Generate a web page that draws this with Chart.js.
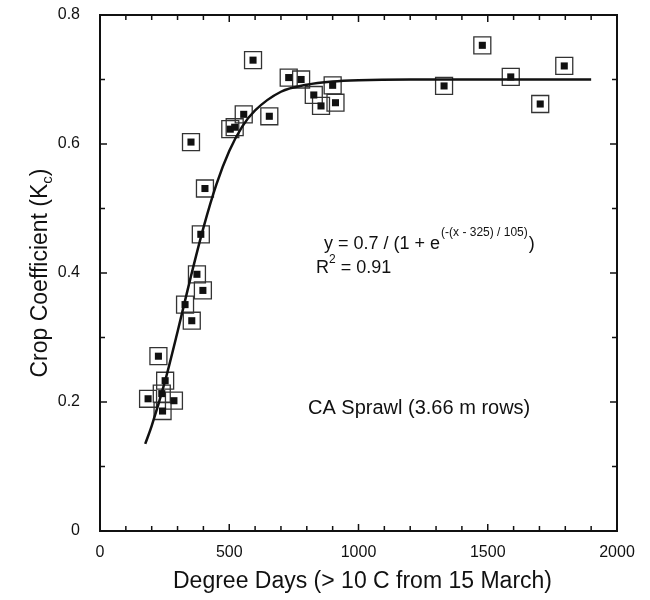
<!DOCTYPE html>
<html>
<head>
<meta charset="utf-8">
<script src="https://cdn.jsdelivr.net/npm/chart.js@4/dist/chart.umd.min.js"></script>
<style>
  body { margin: 0; background: #fff; }
</style>
</head>
<body>
<canvas id="chart" width="650" height="600"></canvas>
<script>
// measured points (degree days, Kc)
const degreeDays = [186, 226, 252, 239, 286, 242, 329, 355, 375, 398, 390, 406, 352, 504, 521,
                    556, 592, 655, 730, 778, 827, 855, 900, 911, 1331, 1479, 1589, 1703, 1796];
const kcValues  = [0.205, 0.271, 0.233, 0.213, 0.202, 0.186, 0.351, 0.326, 0.398, 0.373, 0.460, 0.531, 0.603, 0.623, 0.626,
                   0.646, 0.730, 0.643, 0.703, 0.700, 0.676, 0.659, 0.691, 0.664, 0.690, 0.753, 0.704, 0.662, 0.721];

// fitted curve
const curveX = [175, 200, 250, 300, 350, 400, 450, 500, 550, 600, 700, 800, 900, 1000, 1200, 1500, 1900];
const curveY = [0.135, 0.163, 0.230, 0.309, 0.392, 0.470, 0.537, 0.589, 0.627, 0.652, 0.681, 0.692, 0.697, 0.699, 0.700, 0.700, 0.700];

const xTicks = [0, 500, 1000, 1500, 2000];
const yTicks = [0, 0.2, 0.4, 0.6, 0.8];

const FONT = '"Liberation Sans", Arial, sans-serif';

const points = degreeDays.map((x, i) => ({ x: x, y: kcValues[i] }));
const curve = curveX.map((x, i) => ({ x: x, y: curveY[i] }));

const framePlugin = {
    id: 'frame',
    afterDraw(chart) {
        const ctx = chart.ctx;
        const a = chart.chartArea;
        const xs = chart.scales.x, ys = chart.scales.y;
        ctx.save();
        ctx.strokeStyle = '#111';
        ctx.lineWidth = 2;
        ctx.strokeRect(a.left, a.top, a.right - a.left, a.bottom - a.top);

        // inward ticks, major + minor, all four sides
        ctx.lineWidth = 1.5;
        ctx.beginPath();
        for (let v = 0; v <= 2000; v += 100) {
            const px = xs.getPixelForValue(v);
            const len = v % 500 === 0 ? 7 : 5;
            ctx.moveTo(px, a.bottom); ctx.lineTo(px, a.bottom - len);
            ctx.moveTo(px, a.top); ctx.lineTo(px, a.top + len);
        }
        for (let i = 0; i <= 8; i++) {
            const py = ys.getPixelForValue(i / 10);
            const len = i % 2 === 0 ? 7 : 5;
            ctx.moveTo(a.left, py); ctx.lineTo(a.left + len, py);
            ctx.moveTo(a.right, py); ctx.lineTo(a.right - len, py);
        }
        ctx.stroke();

        ctx.fillStyle = '#111';
        ctx.textBaseline = 'alphabetic';

        // x title
        ctx.font = '23px ' + FONT;
        ctx.textAlign = 'center';
        ctx.fillText('Degree Days (> 10 C from 15 March)', (a.left + a.right) / 2 + 4, 588);

        // y title with subscript
        ctx.save();
        ctx.translate(47, (a.top + a.bottom) / 2);
        ctx.rotate(-Math.PI / 2);
        const main = 'Crop Coefficient (K';
        ctx.font = '23px ' + FONT;
        const w1 = ctx.measureText(main).width;
        ctx.font = '15px ' + FONT;
        const w2 = ctx.measureText('c').width;
        ctx.font = '23px ' + FONT;
        const w3 = ctx.measureText(')').width;
        let sx = -(w1 + w2 + w3) / 2;
        ctx.textAlign = 'left';
        ctx.fillText(main, sx, 0);
        ctx.font = '15px ' + FONT;
        ctx.fillText('c', sx + w1, 5);
        ctx.font = '23px ' + FONT;
        ctx.fillText(')', sx + w1 + w2, 0);
        ctx.restore();

        // equation
        ctx.textAlign = 'left';
        let tx = 324;
        ctx.font = '18px ' + FONT;
        const eq1 = 'y = 0.7 / (1 + e';
        ctx.fillText(eq1, tx, 249);
        tx += ctx.measureText(eq1).width;
        ctx.font = '12px ' + FONT;
        const sup = '(-(x - 325) / 105)';
        ctx.fillText(sup, tx + 1, 236);
        tx += ctx.measureText(sup).width + 2;
        ctx.font = '18px ' + FONT;
        ctx.fillText(')', tx, 249);

        tx = 316;
        ctx.fillText('R', tx, 273);
        tx += ctx.measureText('R').width;
        ctx.font = '12px ' + FONT;
        ctx.fillText('2', tx, 263);
        tx += ctx.measureText('2').width;
        ctx.font = '18px ' + FONT;
        ctx.fillText(' = 0.91', tx, 273);

        ctx.font = '20px ' + FONT;
        ctx.fillText('CA Sprawl (3.66 m rows)', 308, 414);
        ctx.restore();
    }
};

new Chart(document.getElementById('chart'), {
    type: 'scatter',
    data: {
        datasets: [
            {
                type: 'line',
                data: curve,
                borderColor: '#111',
                borderWidth: 2.5,
                pointRadius: 0,
                fill: false,
                cubicInterpolationMode: 'monotone',
                order: 0
            },
            {
                data: points,
                pointStyle: 'rect',
                pointRadius: 5,
                backgroundColor: '#111',
                borderColor: '#111',
                borderWidth: 0,
                order: 1
            },
            {
                data: points,
                pointStyle: 'rect',
                pointRadius: 12,
                backgroundColor: 'rgba(0,0,0,0)',
                borderColor: '#333',
                borderWidth: 1.3,
                order: 2
            }
        ]
    },
    options: {
        responsive: false,
        animation: false,
        devicePixelRatio: 1,
        layout: { padding: { top: 15, right: 33, left: 0, bottom: 0 } },
        plugins: { legend: { display: false }, tooltip: { enabled: false } },
        scales: {
            x: {
                type: 'linear',
                min: 0, max: 2000,
                afterBuildTicks: s => { s.ticks = xTicks.map(v => ({ value: v })); },
                afterFit: s => { s.height = 69; s.paddingLeft = 0; s.paddingRight = 0; },
                grid: { display: false },
                border: { display: false },
                ticks: {
                    color: '#111', padding: 4, font: { family: FONT, size: 16 },
                    callback: v => String(v)
                }
            },
            y: {
                type: 'linear',
                min: 0, max: 0.8,
                afterBuildTicks: s => { s.ticks = yTicks.map(v => ({ value: v })); },
                afterFit: s => { s.width = 100; s.paddingTop = 0; s.paddingBottom = 0; },
                grid: { display: false },
                border: { display: false },
                ticks: {
                    color: '#111', padding: 12, font: { family: FONT, size: 16 },
                    callback: v => v === 0 ? '0' : v.toFixed(1)
                }
            }
        }
    },
    plugins: [framePlugin]
});
</script>
</body>
</html>
